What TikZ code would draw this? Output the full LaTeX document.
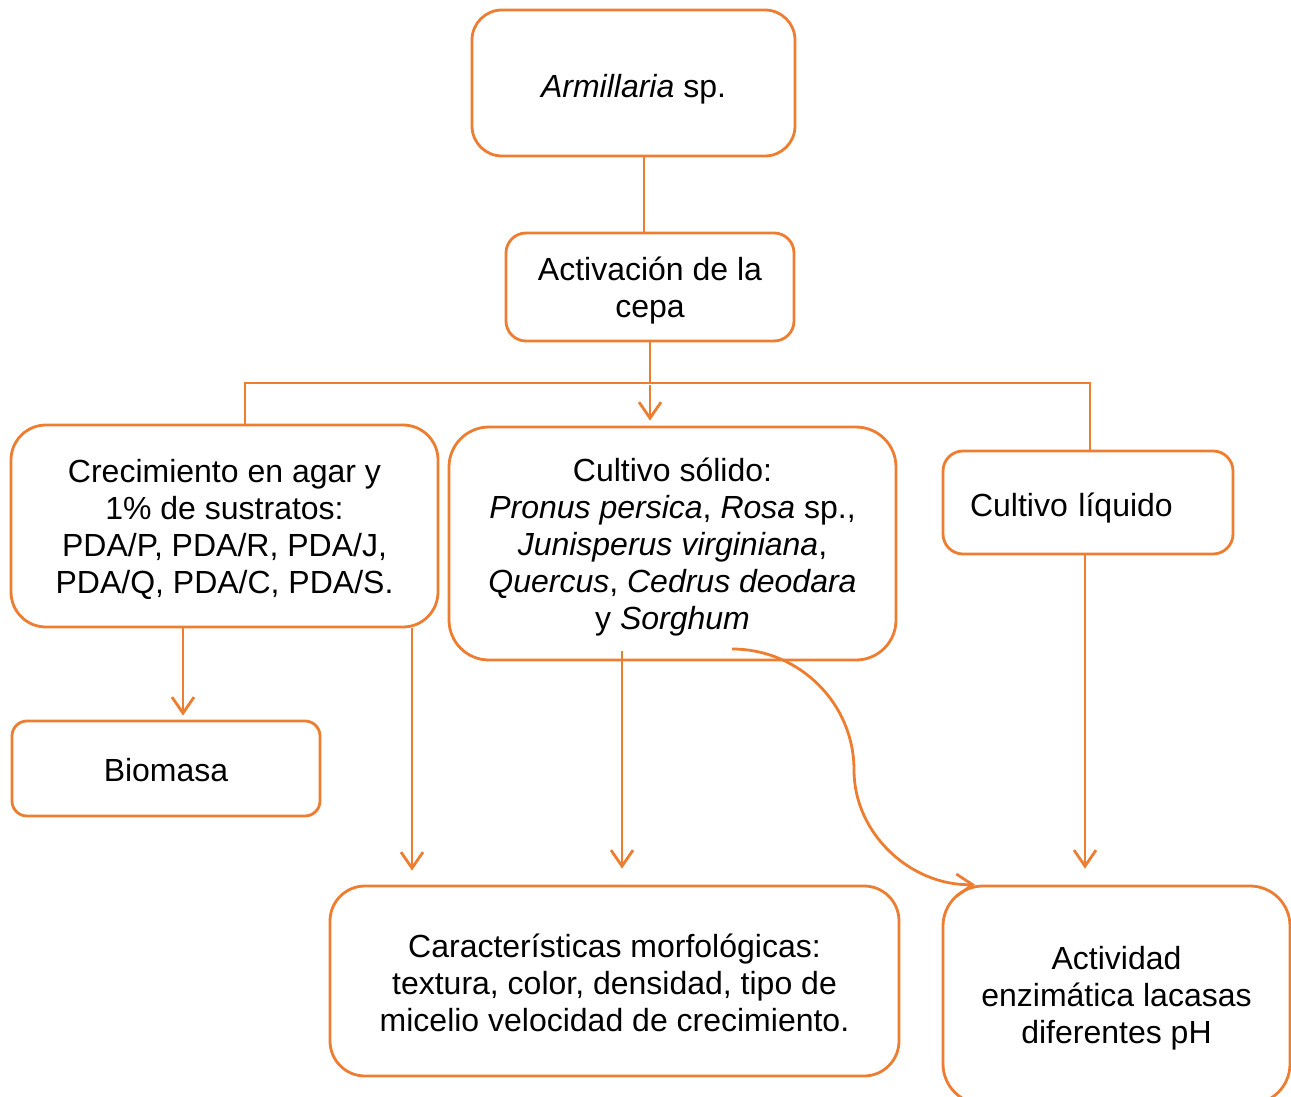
\documentclass[tikz,border=0pt]{standalone}
\usepackage{fontspec}
\setmainfont{Liberation Sans}
\usetikzlibrary{arrows.meta,calc}
\definecolor{orng}{HTML}{ED7D31}
\newcommand{\topstrut}[1]{\rule{0pt}{#1}}
\begin{document}
\begin{tikzpicture}[x=1pt,y=-1pt,
  box/.style={draw=orng, line width=2.8pt, rounded corners=#1, align=center, inner sep=0pt,
    font=\fontsize{32}{37}\selectfont},
  box/.default=30pt,
  tdown/.style={execute at begin node={\rule{0pt}{#1}}},
  thinln/.style={draw=orng, line width=1.4pt},
  arr/.style={draw=orng, line width=2.8pt, -{Straight Barb[length=16pt,width=22pt]}}]
\useasboundingbox (0,0) rectangle (1291,1097);

\node[box=30pt, tdown=36pt, minimum width=323pt, minimum height=146pt] (arm) at (633.5,83) {\textit{Armillaria} sp.};
\node[box=20pt, minimum width=288pt, minimum height=108pt] (actv) at (650,287) {\topstrut{30pt}Activación de la\\cepa};
\node[box=35pt, minimum width=427pt, minimum height=202pt] (crec) at (224.5,526)
  {\topstrut{30pt}Crecimiento en agar y\\1\% de sustratos:\\PDA/P, PDA/R, PDA/J,\\PDA/Q, PDA/C, PDA/S.};
\node[box=40pt, minimum width=447pt, minimum height=233pt] (sol) at (672.5,543.5)
  {\topstrut{30pt}Cultivo sólido:\\\textit{Pronus persica}, \textit{Rosa} sp.,\\\textit{Junisperus virginiana},\\\textit{Quercus}, \textit{Cedrus deodara}\\y \textit{Sorghum}};
\node[box=20pt, tdown=34pt, minimum width=290pt, minimum height=103pt, text width=236pt, align=left] (liq) at (1088,502.5) {Cultivo líquido};
\node[box=15pt, tdown=26pt, minimum width=308pt, minimum height=95pt] (bio) at (166,768.5) {Biomasa};
\node[box=35pt, minimum width=569pt, minimum height=190pt] (mor) at (614.5,981)
  {\topstrut{28pt}Características morfológicas:\\textura, color, densidad, tipo de\\micelio velocidad de crecimiento.};
\node[box=40pt, minimum width=347pt, minimum height=218pt] (enz) at (1116.5,995)
  {\topstrut{30pt}Actividad\\enzimática lacasas\\diferentes pH};

\coordinate (j) at (650,383);
\coordinate (jl) at (245,383);
\coordinate (jr) at (1090,383);
\coordinate (c1) at (732,649);
\coordinate (c2) at (854,770);

\draw[thinln] ([xshift=10.5pt]arm.south) -- ([xshift=-6pt]actv.north);
\draw[thinln] (actv.south) -- (j);
\draw[thinln] (crec.north -| jl) -- (jl) -- (jr) -- (liq.north -| jr);
\draw[arr] ([yshift=-2pt]j) -- ([xshift=-22.5pt,yshift=5pt]sol.north);
\draw[arr] ([xshift=-41.5pt]crec.south) -- ([xshift=17pt,yshift=4pt]bio.north);
\draw[arr] ([xshift=187.5pt]crec.south) -- ([xshift=-202.5pt,yshift=14pt]mor.north);
\draw[arr] ([xshift=-50.5pt,yshift=10pt]sol.south) -- ([xshift=7.5pt,yshift=16pt]mor.north);
\draw[arr] ([xshift=-3pt]liq.south) -- ([xshift=-31.5pt,yshift=16pt]enz.north);
\draw[arr] (c1) .. controls (799,649) and (854,703) .. (c2)
  .. controls (854,834) and (911,886) .. ([xshift=-141.5pt]enz.north);
\end{tikzpicture}
\end{document}
